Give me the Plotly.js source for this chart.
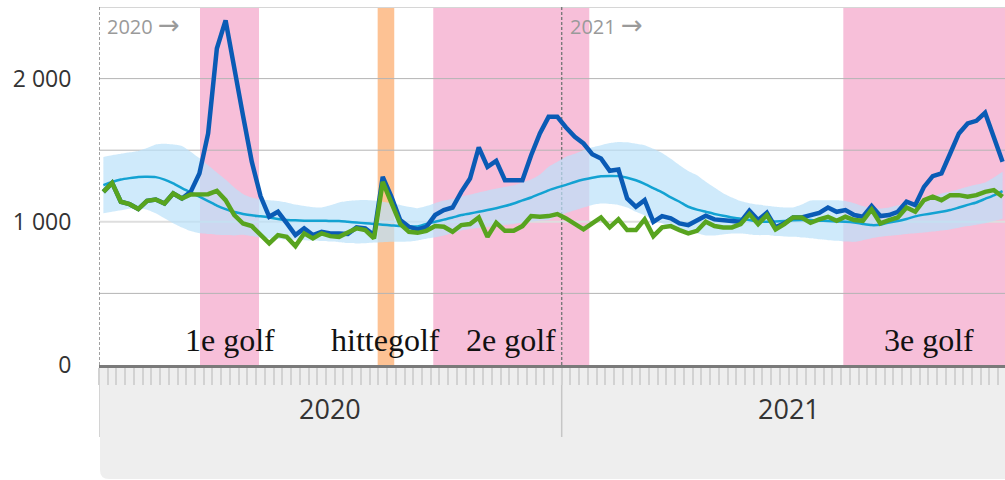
<!DOCTYPE html>
<html>
<head>
<meta charset="utf-8">
<script src="https://cdn.plot.ly/plotly-3.0.1.min.js"></script>
<style>html,body{margin:0;padding:0;background:#fff;}#chart{width:1005px;height:480px;}</style>
</head>
<body>
<div id="chart"></div>
<script>
// ---- data ----
const years = ['2020', '2021'];
const weeksInYear = [53, 52];
const weeks2020 = Array.from({length: 53}, (_, i) => i + 1);
const weeks2021 = Array.from({length: 51}, (_, i) => i + 1);

// total deaths (dark blue)
const deathsTotal = [
  1209,1272,1140,1123,1089,1147,1156,1128,1198,1163,
  1209,1338,1617,2210,2407,2060,1740,1420,1180,1035,
  1070,990,907,954,907,930,919,919,915,961,
  954,907,1314,1175,1012,965,947,965,1047,1082,
  1100,1209,1302,1519,1384,1426,1291,1291,1291,1465,
  1617,1733,1733,
  1659,1593,1547,1472,1442,1356,1365,1163,1105,1151,
  1000,1040,1024,989,977,1012,1042,1017,1012,1007,
  1000,1077,1012,1063,961,989,1030,1030,1047,1062,
  1100,1070,1082,1047,1035,1110,1040,1047,1070,1140,
  1117,1244,1319,1338,1477,1617,1687,1705,1761,1593,
  1420
];
// deaths excluding covid (green)
const deathsOther = [
  1209,1272,1140,1123,1089,1147,1156,1128,1198,1163,
  1191,1191,1193,1216,1151,1047,988,970,907,849,
  907,895,830,919,884,919,900,895,925,954,
  942,884,1279,1128,985,930,923,937,970,965,
  930,977,984,1030,895,993,937,937,970,1040,
  1035,1040,1054,
  1024,989,947,989,1030,961,1017,942,942,1017,
  900,961,970,942,919,937,1000,970,961,961,
  984,1054,984,1047,947,984,1030,1030,993,1017,
  1035,1007,1035,1012,1007,1086,989,1012,1030,1100,
  1070,1151,1175,1151,1186,1186,1175,1186,1209,1221,
  1175
];
// expected deaths (cyan) and its band
const expected = [
  1256,1278,1295,1305,1313,1314,1312,1295,1268,1235,
  1205,1175,1145,1113,1088,1068,1055,1045,1038,1030,
  1020,1012,1010,1008,1008,1008,1005,1005,1000,995,
  990,985,980,975,970,968,968,985,1000,1015,
  1030,1047,1058,1070,1082,1095,1110,1128,1150,1170,
  1195,1220,1240,
  1258,1278,1295,1308,1318,1320,1319,1308,1290,1265,
  1235,1205,1170,1140,1105,1085,1070,1055,1042,1030,
  1022,1012,1003,1000,1002,1005,1010,1012,1012,1008,
  1005,1002,1000,995,985,977,980,995,1005,1020,
  1038,1050,1060,1070,1082,1100,1118,1135,1160,1185,
  1215
];
const expectedUpper = [
  1453,1465,1475,1485,1495,1515,1540,1545,1540,1530,
  1490,1445,1395,1345,1295,1240,1195,1170,1155,1150,
  1145,1135,1120,1110,1102,1100,1115,1135,1145,1150,
  1152,1148,1140,1128,1118,1105,1095,1110,1130,1148,
  1160,1175,1190,1205,1218,1232,1245,1255,1275,1295,
  1330,1385,1420,
  1455,1475,1500,1520,1535,1550,1558,1555,1545,1535,
  1510,1480,1440,1395,1355,1325,1280,1240,1200,1170,
  1145,1130,1120,1112,1105,1100,1100,1120,1148,1150,
  1150,1150,1145,1130,1110,1098,1093,1100,1115,1125,
  1130,1150,1175,1198,1210,1228,1245,1260,1275,1310,
  1350
];
const expectedLower = [
  1059,1070,1080,1092,1093,1085,1060,1025,990,960,
  935,920,915,910,907,905,910,900,890,884,
  880,876,874,872,870,866,862,858,852,849,
  850,855,858,860,860,862,870,882,892,905,
  920,940,950,958,964,970,978,985,995,1002,
  1008,1012,1040,
  1060,1080,1100,1118,1128,1125,1118,1100,1070,1045,
  1010,989,965,950,935,920,905,905,912,918,
  918,912,907,907,900,897,895,890,885,878,
  872,868,862,860,872,885,895,902,908,915,
  920,925,932,940,947,958,970,980,990,1005,
  1022
];

// periods (in weeks since start of 2020)
const waveLabels = ['1e golf', 'hittegolf', '2e golf', '3e golf'];
const waveStart = [11.57, 31.92, 38.29, 85.26];
const waveEnd = [18.33, 33.82, 56.16, 104.8];
const waveKind = ['covid', 'heat', 'covid', 'covid'];

const yTickVals = [0, 1000, 2000];
const yTickText = ['0', '1 000', '2 000'];
const gridVals = [500, 1000, 1500, 2000];

// ---- build ----
const xs = weeks2020.map(w => w - 0.5).concat(weeks2021.map(w => weeksInYear[0] + w - 0.5));
const yearStarts = [0, weeksInYear[0]];
const xMax = 103.78;
const yMax = 2500;

const traces = [
  {x: xs, y: expectedUpper, type: 'scatter', mode: 'lines', line: {width: 0, shape: 'spline', smoothing: 0.6}, hoverinfo: 'skip', showlegend: false},
  {x: xs, y: expectedLower, type: 'scatter', mode: 'lines', line: {width: 0, shape: 'spline', smoothing: 0.6}, fill: 'tonexty', fillcolor: 'rgba(186,225,249,0.7)', hoverinfo: 'skip', showlegend: false},
  {x: xs, y: expected, type: 'scatter', mode: 'lines', line: {color: '#13a2d2', width: 2.5, shape: 'spline', smoothing: 0.6}, showlegend: false},
  {x: xs, y: deathsTotal, type: 'scatter', mode: 'lines', line: {color: '#0a5bb5', width: 4.5}, showlegend: false},
  {x: xs, y: deathsOther, type: 'scatter', mode: 'lines', line: {color: '#58a41f', width: 4.5}, showlegend: false}
];

const shapes = [];
// grey area under the axis (paper refs)
const pw = 906, ph = 358;
const lx = 1 / pw, bot = -114 / ph, rxr = 9 / pw, ryr = 9 / ph;
shapes.push({type: 'path', xref: 'paper', yref: 'paper', layer: 'below',
  path: `M ${lx},0 L 1,0 L 1,${bot} L ${lx + rxr},${bot} Q ${lx},${bot} ${lx},${bot + ryr} Z`,
  fillcolor: '#eeeeee', line: {width: 0}});
yearStarts.forEach(s => shapes.push({type: 'line', xref: 'x', yref: 'paper', layer: 'below',
  x0: s, x1: s, y0: 0, y1: -72 / ph, line: {color: '#c6c6c6', width: 1.5}}));
// wave bands
waveLabels.forEach((l, i) => shapes.push({type: 'rect', xref: 'x', yref: 'y', layer: 'below',
  x0: waveStart[i], x1: waveEnd[i], y0: 0, y1: yMax,
  fillcolor: waveKind[i] === 'heat' ? '#fdc294' : '#f7bfd9', line: {width: 0}}));
// grid lines
gridVals.forEach(v => shapes.push({type: 'line', xref: 'x', yref: 'y', layer: 'below',
  x0: 0, x1: xMax, y0: v, y1: v,
  line: {color: v === 1000 ? '#dedede' : '#b4b4b4', width: v === 1000 ? 2 : 1}}));
// top border
shapes.push({type: 'line', xref: 'x', yref: 'y', layer: 'below', x0: 0, x1: xMax, y0: yMax, y1: yMax,
  line: {color: '#d6d6d6', width: 2}});
// year start dashed lines
yearStarts.forEach(s => shapes.push({type: 'line', xref: 'x', yref: 'y', layer: 'below',
  x0: s, x1: s, y0: 0, y1: yMax, line: {color: '#7a7a7a', width: 1.4, dash: '3px,2px'}}));

const annotations = [];
waveLabels.forEach((l, i) => annotations.push({
  text: l, xref: 'x', yref: 'y', x: (waveStart[i] + waveEnd[i]) / 2, y: 175,
  xanchor: 'center', yanchor: 'middle', showarrow: false,
  font: {family: 'Liberation Serif, serif', size: 32, color: '#111'}}));
years.forEach((yr, i) => {
  annotations.push({text: yr + ' <span style="font-family:DejaVu Sans;font-size:26px">→</span>',
    xref: 'x', yref: 'paper', x: yearStarts[i], y: 1,
    xanchor: 'left', yanchor: 'top', xshift: 6, yshift: -1, showarrow: false,
    font: {family: 'Open Sans, sans-serif', size: 20, color: '#9a9a9a'}});
  annotations.push({text: yr, xref: 'x', yref: 'paper', x: yearStarts[i] + weeksInYear[i] / 2, y: -43 / ph,
    xanchor: 'center', yanchor: 'middle', showarrow: false,
    font: {family: 'Open Sans, sans-serif', size: 27, color: '#333'}});
});

const layout = {
  width: 1005, height: 480,
  margin: {l: 99, r: 0, t: 7, b: 115, pad: 0},
  paper_bgcolor: '#ffffff', plot_bgcolor: 'rgba(0,0,0,0)',
  showlegend: false,
  xaxis: {range: [0, xMax], showgrid: false, zeroline: false, showline: true, linecolor: '#7a7a7a', linewidth: 3,
    ticks: 'outside', tick0: 0, dtick: 1, ticklen: 17, tickwidth: 2, tickcolor: '#d2d2d2',
    showticklabels: false, fixedrange: true},
  yaxis: {range: [0, yMax], showgrid: false, zeroline: false, showline: false,
    tickvals: yTickVals, ticktext: yTickText, ticks: 'outside', ticklen: 22, tickcolor: 'rgba(0,0,0,0)',
    tickfont: {family: 'Open Sans, sans-serif', size: 23, color: '#333'}, fixedrange: true},
  shapes: shapes,
  annotations: annotations
};

Plotly.newPlot('chart', traces, layout, {displayModeBar: false, staticPlot: true});
</script>
</body>
</html>
